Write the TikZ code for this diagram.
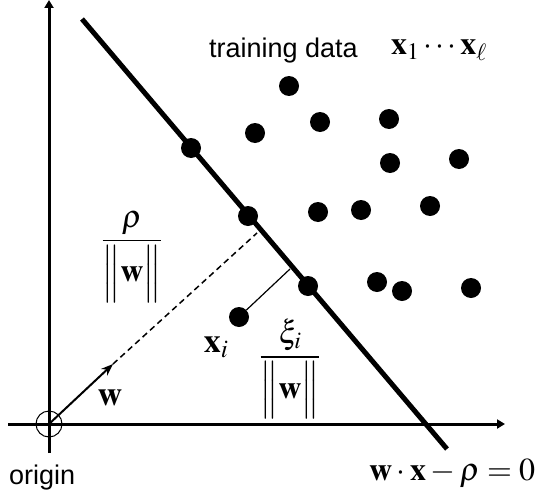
\documentclass[tikz,border=0pt]{standalone}
\usepackage{mathptmx}
\usepackage[no-math]{fontspec}
\setmainfont{Liberation Sans}
\usetikzlibrary{arrows.meta}
\tikzset{
  datadot/.style={circle,fill=black,inner sep=0pt,minimum size=20pt},
  axisline/.style={line width=3pt,-{Triangle[length=8pt,width=9pt]}},
  sepline/.style={line width=5pt},
  labeltext/.style={inner sep=0pt,font=\fontsize{27}{32}\selectfont},
  mathlabel/.style={inner sep=0pt,font=\fontsize{34}{40}\selectfont},
  mathsmall/.style={inner sep=0pt,font=\fontsize{32}{38}\selectfont},
}
\begin{document}
\begin{tikzpicture}[x=1pt,y=-1pt]
\useasboundingbox (0,0) rectangle (537,503);
% axes
\coordinate (yb) at (49,453);
\coordinate (yt) at (49,0);
\coordinate (xl) at (8,424);
\coordinate (xr) at (505,424);
\coordinate (O) at (49,424);
\draw[axisline] (yb) -- (yt);
\draw[axisline] (xl) -- (xr);
\node[circle,draw,line width=1pt,minimum size=26pt,inner sep=0pt] (oc) at (O) {};
% separating line
\coordinate (L1) at (82,19);
\coordinate (L2) at (447,449);
\draw[sepline] (L1) -- (L2);
% w arrow and dashed line
\coordinate (wtip) at (113,364);
\coordinate (foot) at (257,233);
\draw[line width=2pt,-{Stealth[length=12pt,width=9pt]}] (O) -- (wtip);
\draw[line width=1.5pt,dash pattern=on 6pt off 4pt] (wtip) -- (foot);
% data points
\foreach \n/\px/\py in {d1/289/86, d2/320/122, d3/389/119, d4/255/133, d5/191/148,
  d6/390/163, d7/459/159, d8/248/216, d9/318/212, d10/361/210, d11/430/206,
  d12/308/286, d13/377/282, d14/402/291, d15/471/288}
  \node[datadot] (\n) at (\px,\py) {};
\node[datadot] (xi) at (239,317) {};
\coordinate (xifoot) at (290,269);
\draw[line width=1.2pt] (xi) -- (xifoot);
% labels
\node[labeltext,anchor=base west] (train) at (209,57) {training data};
\node[mathsmall,anchor=base west] (xs) at (391,55) {$\mathbf{x}_1\cdots\mathbf{x}_\ell$};
\node[labeltext,anchor=base west] (orig) at (9,484) {origin};
\node[mathlabel] (wl) at (110,398) {$\mathbf{w}$};
\node[mathlabel] (xil) at (216,347) {$\mathbf{x}_i$};
\node[mathsmall] (rho) at (132,257) {$\displaystyle\frac{\rho}{\Big\|\mathbf{w}\Big\|}$};
\node[mathsmall] (xifr) at (290,369) {$\displaystyle\frac{\xi_i}{\Big\|\mathbf{w}\Big\|}$};
\node[mathsmall,anchor=base west] (eq) at (369,480) {$\mathbf{w}\cdot\mathbf{x}-\rho=0$};
\end{tikzpicture}
\end{document}
